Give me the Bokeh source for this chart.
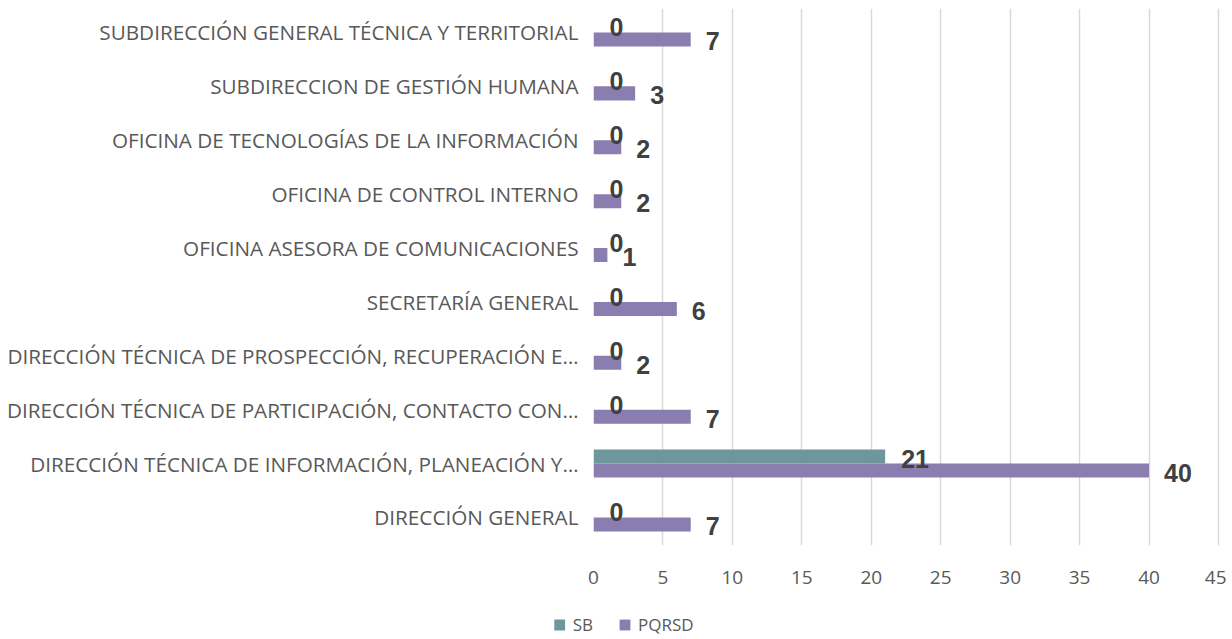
from bokeh.plotting import figure
from bokeh.layouts import column
from bokeh.models import ColumnDataSource, FixedTicker, Legend, LegendItem
from bokeh.core.properties import value
from bokeh.embed import file_html
from bokeh.resources import INLINE

categories = [
    "DIRECCIÓN GENERAL",
    "DIRECCIÓN TÉCNICA DE INFORMACIÓN, PLANEACIÓN Y…",
    "DIRECCIÓN TÉCNICA DE PARTICIPACIÓN, CONTACTO CON…",
    "DIRECCIÓN TÉCNICA DE PROSPECCIÓN, RECUPERACIÓN E…",
    "SECRETARÍA GENERAL",
    "OFICINA ASESORA DE COMUNICACIONES",
    "OFICINA DE CONTROL INTERNO",
    "OFICINA DE TECNOLOGÍAS DE LA INFORMACIÓN",
    "SUBDIRECCION DE GESTIÓN HUMANA",
    "SUBDIRECCIÓN GENERAL TÉCNICA Y TERRITORIAL",
]
sb = [0, 21, 0, 0, 0, 0, 0, 0, 0, 0]
pqrsd = [7, 40, 7, 2, 6, 1, 2, 2, 3, 7]
x_ticks = [0, 5, 10, 15, 20, 25, 30, 35, 40, 45]
series_names = ["SB", "PQRSD"]

SB_COLOR = "#6E979B"
PQ_COLOR = "#8A7DAF"
BAR_H = 0.26
W = 1226

pos = list(range(len(categories)))
sb_src = ColumnDataSource(dict(y=[i + BAR_H / 2 for i in pos], v=sb, t=[str(v) for v in sb]))
pq_src = ColumnDataSource(dict(y=[i - BAR_H / 2 for i in pos], v=pqrsd, t=[str(v) for v in pqrsd]))

p = figure(width=W, height=591, output_backend="svg", toolbar_location=None,
           x_range=(0, 45.22), y_range=(-0.52, 9.445),
           min_border_left=593, min_border_right=5, min_border_top=8, min_border_bottom=46)
p.outline_line_color = None
p.background_fill_color = "white"

p.hbar(y="y", right="v", left=0, height=BAR_H, source=sb_src, fill_color=SB_COLOR, line_color=None)
p.hbar(y="y", right="v", left=0, height=BAR_H, source=pq_src, fill_color=PQ_COLOR, line_color=None)

lab_font = value("Liberation Sans Narrow, Arial Narrow, sans-serif")
p.text(x="v", y="y", text="t", source=sb_src, x_offset=16, y_offset=2, text_baseline="middle",
       text_align="left", text_font=lab_font, text_font_style="bold", text_font_size="25px",
       text_color="#404040")
p.text(x="v", y="y", text="t", source=pq_src, x_offset=15, y_offset=2, text_baseline="middle",
       text_align="left", text_font=lab_font, text_font_style="bold", text_font_size="25px",
       text_color="#404040")

# x axis
p.xaxis.ticker = FixedTicker(ticks=x_ticks)
p.xaxis.axis_line_color = None
p.xaxis.major_tick_line_color = None
p.xaxis.minor_tick_line_color = None
p.xaxis.major_label_standoff = 19
p.xaxis.major_label_text_font = "Open Sans"
p.xaxis.major_label_text_font_size = "19px"
p.xaxis.major_label_text_color = "#595959"

# y axis
p.yaxis.ticker = FixedTicker(ticks=pos)
p.yaxis.major_label_overrides = {i: c for i, c in enumerate(categories)}
p.yaxis.axis_line_color = None
p.yaxis.major_tick_line_color = None
p.yaxis.minor_tick_line_color = None
p.yaxis.major_label_standoff = 9
p.yaxis.major_label_text_font = "Open Sans"
p.yaxis.major_label_text_font_size = "20.7px"
p.yaxis.major_label_text_color = "#595959"

p.ygrid.grid_line_color = None
p.xgrid.grid_line_color = "#D9D9D9"
p.xgrid.grid_line_width = 1.5

# legend strip below the chart (its own ranges keep the markers out of view)
lf = figure(width=W, height=47, output_backend="svg", toolbar_location=None,
            x_range=(1000, 1001), y_range=(1000, 1001),
            x_axis_type=None, y_axis_type=None, min_border=0,
            min_border_left=593, min_border_right=5, min_border_top=0, min_border_bottom=0)
lf.outline_line_color = None
lf.xgrid.grid_line_color = None
lf.ygrid.grid_line_color = None
l_sb = lf.scatter(x="v", y="y", marker="square", size=11, source=sb_src, fill_color=SB_COLOR, line_color=None)
l_pq = lf.scatter(x="v", y="y", marker="square", size=11, source=pq_src, fill_color=PQ_COLOR, line_color=None)

leg_style = dict(orientation="horizontal", padding=0, margin=0,
                 glyph_width=27, glyph_height=27, label_height=21, spacing=10,
                 label_text_font="Open Sans", label_text_font_size="17px", label_text_color="#595959",
                 label_text_baseline="middle",
                 border_line_color=None, background_fill_alpha=0)
leg_sb = Legend(items=[LegendItem(label=series_names[0], renderers=[l_sb])],
                location="bottom_right", label_standoff=-5, **leg_style)
leg_pq = Legend(items=[LegendItem(label=series_names[1], renderers=[l_pq])],
                location=(18, 0), label_standoff=0, **leg_style)
lf.add_layout(leg_sb, "left")
lf.add_layout(leg_pq, "center")

layout = column(p, lf, spacing=0)
open("out.html", "w").write(file_html(layout, INLINE))
